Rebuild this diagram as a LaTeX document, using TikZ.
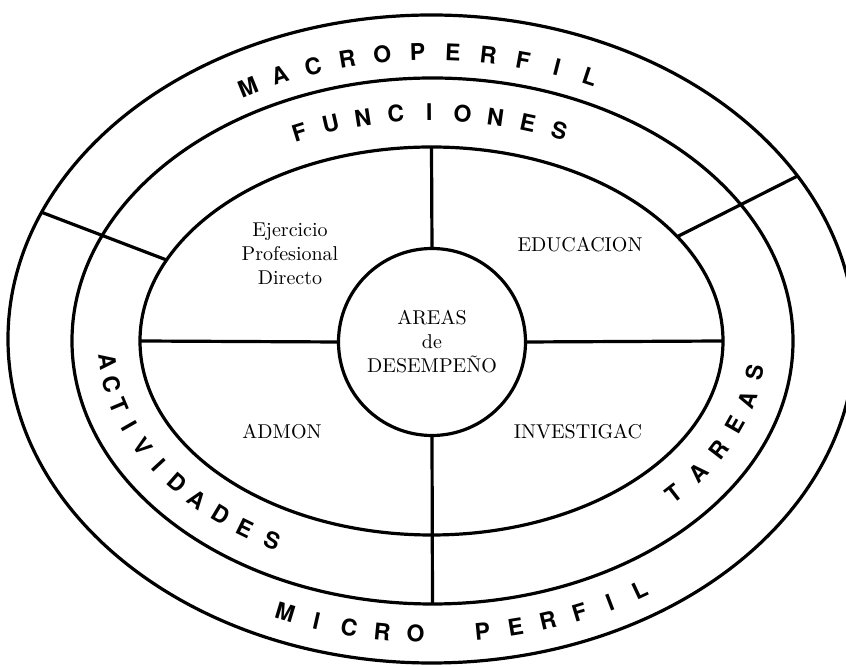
\documentclass[tikz,border=0pt]{standalone}
\usepackage{fontspec}
\newfontfamily\ringfont{TeX Gyre Heros}
\usetikzlibrary{shapes.geometric}

\tikzset{
  ring/.style={draw, ellipse, line width=1.6pt, inner sep=0pt, outer sep=0pt},
  divider/.style={line width=1.6pt},
  area/.style={align=center},
  ringletter/.style={font=\ringfont\bfseries\fontsize{11.5}{11.5}\selectfont, inner sep=0pt},
}

\begin{document}
\begin{tikzpicture}[x=0.5pt, y=0.5pt]

    \useasboundingbox (-432,-326) rectangle (414,341);
    \clip (-432,-326) rectangle (414,341);

    \node[ring, minimum width=423.5pt, minimum height=324pt] (outer) at (-0.5,2) {};
    \node[ring, minimum width=360.5pt, minimum height=263pt] (middle) at (0.5,0) {};
    \node[ring, minimum width=291.5pt, minimum height=194pt] (inner) at (-0.5,0) {};
    \node[ring, circle, minimum size=93.5pt, align=center] (areas) at (0,-1) {AREAS\\de\\DESEMPEÑO};

    \draw[divider] (areas.north) -- (inner.north);
    \draw[divider] (inner.west) -- (areas.west);
    \draw[divider] (areas.east) -- (inner.east);
    \draw[divider] (areas.south) -- (middle.south);
    \draw[divider] (outer.162) -- (inner.163);
    \draw[divider] (inner.23) -- (outer.24);

    \node[area] (ejercicio) at (-142,87) {Ejercicio\\Profesional\\Directo};
    \node[area] (educacion) at (148,96) {EDUCACION};
    \node[area] (admon) at (-150,-91) {ADMON};
    \node[area] (investigac) at (146,-91) {INVESTIGAC};

    % top band
    \foreach \l [count=\i] in {M,A,C,R,O,P,E,R,F,I,L} {
        \pgfmathsetmacro\t{118.4-5.25*(\i-1)}
        \node[ringletter, rotate={atan2(-289*cos(\t),387*sin(\t))}] at (\t:387 and 289) {\l};
    }
    % middle band, top
    \foreach \l [count=\i] in {F,U,N,C,I,O,N,E,S} {
        \pgfmathsetmacro\t{114-5.875*(\i-1)}
        \node[ringletter, rotate={atan2(-228.5*cos(\t),326*sin(\t))}] at (\t:326 and 228.5) {\l};
    }
    % middle band, left and right
    \foreach \l [count=\i] in {A,C,T,I,V,I,D,A,D,E,S} {
        \pgfmathsetmacro\t{185.3+5.53*(\i-1)}
        \node[ringletter, rotate={atan2(228.5*cos(\t),-326*sin(\t))}] at (\t:326 and 228.5) {\l};
    }
    \foreach \l [count=\i] in {T,A,R,E,A,S} {
        \pgfmathsetmacro\t{318+6.8*(\i-1)}
        \node[ringletter, rotate={atan2(228.5*cos(\t),-326*sin(\t))}] at (\t:326 and 228.5) {\l};
    }
    % bottom band
    \foreach \l/\t in {M/248,I/252.9,C/257.8,R/262.7,O/267.6,P/277.4,E/282.3,R/287.2,F/292.1,I/297,L/302}
        \node[ringletter, rotate={atan2(293*cos(\t),-392*sin(\t))}] at (\t:392 and 293) {\l};

\end{tikzpicture}
\end{document}
